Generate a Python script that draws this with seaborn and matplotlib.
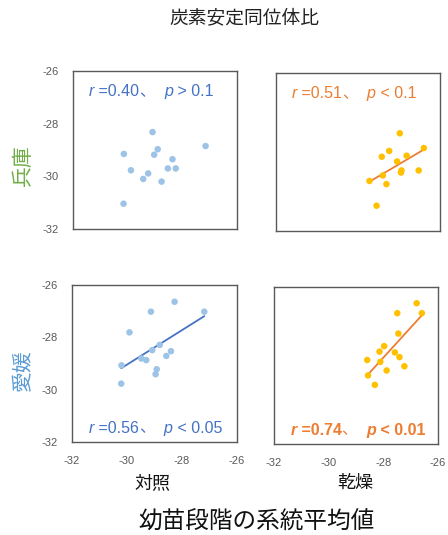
import matplotlib
matplotlib.use("Agg")
import matplotlib.pyplot as plt
import seaborn as sns
import numpy as np
import pandas as pd
from matplotlib.offsetbox import TextArea, HPacker, AnchoredOffsetbox

sns.set_style("white")
plt.rcParams['font.family'] = ['Noto Sans CJK JP', 'DejaVu Sans']

# ---- data ----
hyogo_ctrl_x = [-29.09, -30.14, -28.90, -29.03, -27.15, -28.36, -29.88, -28.53, -28.24, -29.25, -29.43, -28.76, -30.15]
hyogo_ctrl_y = [-28.32, -29.15, -28.97, -29.18, -28.85, -29.35, -29.77, -29.70, -29.70, -29.89, -30.10, -30.20, -31.04]

hyogo_dry_x = [-27.47, -27.86, -28.13, -26.59, -27.22, -27.57, -27.41, -27.43, -26.78, -28.09, -28.58, -27.96, -28.32]
hyogo_dry_y = [-28.29, -28.96, -29.18, -28.85, -29.14, -29.36, -29.70, -29.78, -29.70, -29.89, -30.10, -30.22, -31.04]

ehime_ctrl_x = [-28.27, -29.13, -27.19, -29.91, -28.81, -29.08, -28.40, -28.57, -29.48, -29.30, -30.20, -28.92, -28.96, -30.21]
ehime_ctrl_y = [-26.64, -27.02, -27.02, -27.81, -28.29, -28.49, -28.53, -28.71, -28.81, -28.87, -29.07, -29.22, -29.41, -29.77]

ehime_dry_x = [-26.78, -27.49, -26.59, -27.45, -27.97, -28.14, -27.58, -27.41, -28.59, -28.11, -27.23, -27.88, -28.56, -28.31]
ehime_dry_y = [-26.62, -27.00, -27.00, -27.78, -28.26, -28.47, -28.50, -28.68, -28.79, -28.86, -29.03, -29.19, -29.38, -29.74]

stats = {
    "hyogo_ctrl": ("0.40", "> 0.1"),
    "hyogo_dry": ("0.51", "< 0.1"),
    "ehime_ctrl": ("0.56", "< 0.05"),
    "ehime_dry": ("0.74", "< 0.01"),
}
ticks = [-32, -30, -28, -26]
tick_labels = ["-32", "-30", "-28", "-26"]

# ---- colours ----
BLUE_PT = "#9DC3E6"
BLUE_LN = "#4472C4"
GOLD_PT = "#FFC000"
ORANGE_LN = "#ED7D31"
SPINE = "#595959"

fig = plt.figure(figsize=(4.48, 5.35), dpi=100)

W, H = 448, 535
def rect(x0, y0, x1, y1):
    return [x0 / W, 1 - y1 / H, (x1 - x0) / W, (y1 - y0) / H]

panels = [
    ("hyogo_ctrl", rect(73, 71, 237, 229), hyogo_ctrl_x, hyogo_ctrl_y, BLUE_PT, BLUE_LN, False, "top", False, True, False),
    ("hyogo_dry", rect(276, 73, 440, 231), hyogo_dry_x, hyogo_dry_y, GOLD_PT, ORANGE_LN, True, "top", False, False, False),
    ("ehime_ctrl", rect(72, 285, 237, 442), ehime_ctrl_x, ehime_ctrl_y, BLUE_PT, BLUE_LN, True, "bottom", True, True, False),
    ("ehime_dry", rect(274, 287, 438, 444), ehime_dry_x, ehime_dry_y, GOLD_PT, ORANGE_LN, True, "bottom", True, False, True),
]

for key, r, xs, ys, pc, lc, fit, tpos, showx, showy, bold in panels:
    ax = fig.add_axes(r)
    df = pd.DataFrame({"x": xs, "y": ys})
    sns.scatterplot(data=df, x="x", y="y", ax=ax, color=pc, s=22, edgecolor="none", linewidth=0, zorder=3)
    if fit:
        sns.regplot(data=df, x="x", y="y", ax=ax, scatter=False, ci=None, truncate=True,
                    line_kws=dict(color=lc, lw=1.3, zorder=2))
    ax.set_xlim(-32, -26)
    ax.set_ylim(-32, -26)
    ax.set_xticks(ticks)
    ax.set_yticks(ticks)
    ax.set_xticklabels(tick_labels if showx else [])
    ax.set_yticklabels(tick_labels if showy else [])
    ax.tick_params(length=0, labelsize=8, labelcolor=SPINE, pad=10)
    ax.set_xlabel("")
    ax.set_ylabel("")
    for sp in ax.spines.values():
        sp.set_color(SPINE)
        sp.set_linewidth(1.0)
    for lbl in ax.get_xticklabels() + ax.get_yticklabels():
        lbl.set_family(['Liberation Sans', 'DejaVu Sans'])

    rv, pv = stats[key]
    weight = "bold" if bold else "normal"
    fam = ['Liberation Sans', 'Noto Sans CJK JP']
    base = dict(color=lc, fontsize=11.5, family=fam, weight=weight)
    parts = [
        TextArea("r", textprops=dict(base, style="italic")),
        TextArea(" =" + rv, textprops=base),
        TextArea("、", textprops=dict(base, family=['Noto Sans CJK JP'], weight="normal")),
        TextArea("  ", textprops=base),
        TextArea("p", textprops=dict(base, style="italic")),
        TextArea(" " + pv, textprops=base),
    ]
    box = HPacker(children=parts, align="baseline", pad=0, sep=0)
    if tpos == "top":
        anc = AnchoredOffsetbox(loc="upper left", child=box, frameon=False, pad=0, borderpad=0,
                                bbox_to_anchor=(0.095, 0.925), bbox_transform=ax.transAxes)
    else:
        anc = AnchoredOffsetbox(loc="lower left", child=box, frameon=False, pad=0, borderpad=0,
                                bbox_to_anchor=(0.10, 0.035), bbox_transform=ax.transAxes)
    ax.add_artist(anc)

# ---- figure texts ----
fig.text(244 / W, 1 - 18 / H, "炭素安定同位体比", ha="center", va="center", fontsize=13.5, color="#222222")
fig.text(23 / W, 1 - 165 / H, "兵庫", ha="center", va="center", rotation=90, fontsize=15, color="#70AD47")
fig.text(23 / W, 1 - 370 / H, "愛媛", ha="center", va="center", rotation=90, fontsize=15, color="#5B9BD5")
fig.text(152 / W, 1 - 483 / H, "対照", ha="center", va="center", fontsize=13, color="#111111")
fig.text(355 / W, 1 - 483 / H, "乾燥", ha="center", va="center", fontsize=13, color="#111111")
fig.text(256 / W, 1 - 522 / H, "幼苗段階の系統平均値", ha="center", va="center", fontsize=17, color="#111111")

fig.savefig("out.png", dpi=100)
